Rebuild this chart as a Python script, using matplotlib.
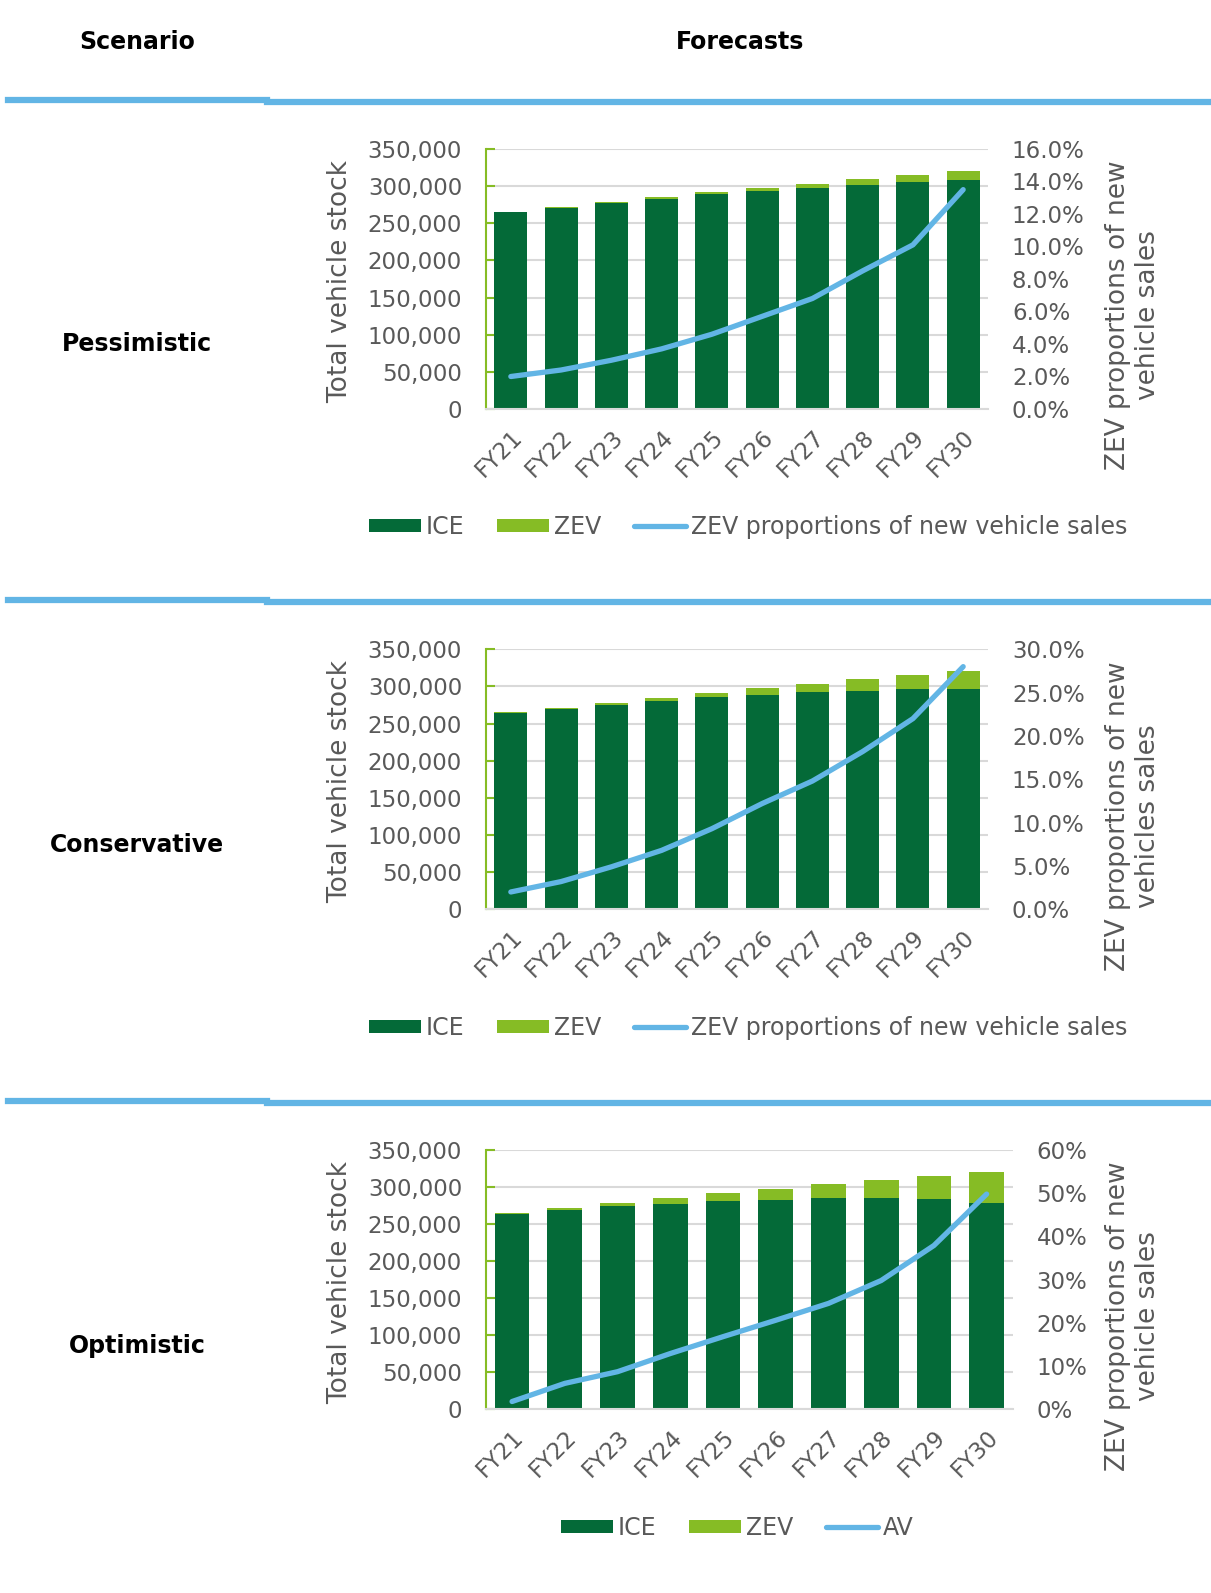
import numpy as np
import matplotlib
matplotlib.use("Agg")
import matplotlib.pyplot as plt
from matplotlib.ticker import FuncFormatter, MultipleLocator

plt.rcParams['font.family'] = ['DejaVu Sans']

# data
years = ['FY21', 'FY22', 'FY23', 'FY24', 'FY25', 'FY26', 'FY27', 'FY28', 'FY29', 'FY30']

pess_ice = [264700, 270800, 277100, 282900, 288800, 293300, 297900, 301900, 305300, 307900]
pess_zev = [300, 700, 1200, 1900, 2900, 4200, 5600, 7600, 10200, 12800]
pess_share = [2.0, 2.4, 3.0, 3.7, 4.6, 5.7, 6.8, 8.5, 10.1, 13.5]

cons_ice = [264400, 269700, 275500, 280400, 285400, 289000, 292300, 294500, 296000, 296200]
cons_zev = [600, 1800, 2800, 4400, 6300, 8500, 11200, 15000, 19500, 24500]
cons_share = [2.0, 3.2, 4.9, 6.8, 9.3, 12.2, 14.8, 18.2, 22.0, 28.0]

opt_ice = [263800, 269000, 273800, 277600, 281200, 283100, 284700, 285300, 283200, 278200]
opt_zev = [1200, 2500, 4500, 7200, 10500, 14400, 18800, 24200, 32300, 42500]
opt_share = [1.8, 6.0, 8.7, 12.9, 16.8, 20.6, 24.5, 29.8, 37.9, 49.8]

# colours
ICE_C = '#046A38'
ZEV_C = '#86BC25'
LINE_C = '#62B5E5'
GRID_C = '#d9d9d9'
TXT_C = '#595959'

W, H = 1211, 1593
fig = plt.figure(figsize=(W / 100, H / 100), dpi=100)

def px(x, y):
    # figure pixel -> figure fraction
    return x / W, 1 - y / H

# header
fig.text(*px(137, 42), 'Scenario', ha='center', va='center', fontsize=17, fontweight='bold')
fig.text(*px(740, 42), 'Forecasts', ha='center', va='center', fontsize=17, fontweight='bold')

# blue separators
for yy in [100, 600, 1101]:
    fig.add_artist(plt.Line2D([8 / W, 267 / W], [1 - yy / H, 1 - yy / H], color=LINE_C, lw=4.5))
    fig.add_artist(plt.Line2D([267 / W, 1.0], [1 - (yy + 1.5) / H, 1 - (yy + 1.5) / H], color=LINE_C, lw=4.5))

fs = 16.5

def panel(name, name_y, left, right, top, bottom, ice, zev, share, smax, sstep, sfmt,
          ylab2, line_lab, leg_x, leg_y):
    x = np.arange(len(years))
    ax = fig.add_axes([left / W, 1 - bottom / H, (right - left) / W, (bottom - top) / H])
    ax.bar(x, ice, width=0.66, color=ICE_C, label='ICE', zorder=2)
    ax.bar(x, zev, width=0.66, bottom=ice, color=ZEV_C, label='ZEV', zorder=2)
    ax.set_xlim(-0.5, len(years) - 0.5)
    ax.set_ylim(0, 350000)
    ax.yaxis.set_major_locator(MultipleLocator(50000))
    ax.yaxis.set_major_formatter(FuncFormatter(lambda v, p: f'{int(v):,}'))
    ax.grid(axis='y', color=GRID_C, lw=1.5, zorder=0)
    ax.set_axisbelow(True)
    for s in ['top', 'right']:
        ax.spines[s].set_visible(False)
    ax.spines['left'].set_color(ZEV_C)
    ax.spines['left'].set_linewidth(1.5)
    ax.spines['bottom'].set_color(GRID_C)
    ax.spines['bottom'].set_linewidth(1.5)
    ax.tick_params(axis='y', direction='in', length=6.5, width=1.5, color=ZEV_C,
                   labelsize=fs, labelcolor=TXT_C, pad=17)
    ax.set_xticks(x)
    ax.set_xticklabels(years, rotation=45, ha='right', rotation_mode='anchor')
    ax.tick_params(axis='x', length=0, labelsize=fs, labelcolor=TXT_C, pad=12)
    ax.set_ylabel('Total vehicle stock', fontsize=19, color=TXT_C)
    ax.yaxis.set_label_coords((353 - left) / (right - left), 0.49)

    ax2 = ax.twinx()
    ln, = ax2.plot(x, share, color=LINE_C, lw=3.8, solid_capstyle='round', zorder=3,
                   label=line_lab)
    ax2.set_ylim(0, smax)
    ax2.yaxis.set_major_locator(MultipleLocator(sstep))
    ax2.yaxis.set_major_formatter(FuncFormatter(lambda v, p: sfmt.format(v)))
    for s in ax2.spines.values():
        s.set_visible(False)
    ax2.tick_params(axis='y', length=0, labelsize=fs, labelcolor=TXT_C, pad=17)
    ax2.set_ylabel(ylab2, fontsize=19, color=TXT_C, multialignment='center',
                   rotation=90)
    ax2.yaxis.set_label_coords((1105 - left) / (right - left), 0.36)

    handles, labels = ax.get_legend_handles_labels()
    fig.legend(handles + [ln], labels + [line_lab], loc='center',
               bbox_to_anchor=px(leg_x, leg_y), ncol=3, frameon=False,
               fontsize=17, labelcolor=TXT_C, handlelength=2.2, handleheight=0.5,
               handletextpad=0.2, columnspacing=1.4)

    fig.text(*px(137, name_y), name, ha='center', va='center', fontsize=17,
             fontweight='bold')

panel('Pessimistic', 344, 485.7, 988.3, 149, 409, pess_ice, pess_zev, pess_share,
      16, 2, '{:.1f}%', 'ZEV proportions of new\nvehicle sales',
      'ZEV proportions of new vehicle sales', 748, 527)
panel('Conservative', 845, 485.7, 988.3, 649.3, 909.3, cons_ice, cons_zev, cons_share,
      30, 5, '{:.1f}%', 'ZEV proportions of new\nvehicles sales',
      'ZEV proportions of new vehicle sales', 748, 1028)
panel('Optimistic', 1346, 485.7, 1013, 1150, 1409.3, opt_ice, opt_zev, opt_share,
      60, 10, '{:.0f}%', 'ZEV proportions of new\nvehicle sales',
      'AV', 737, 1528)

fig.savefig('out.png', dpi=100)
